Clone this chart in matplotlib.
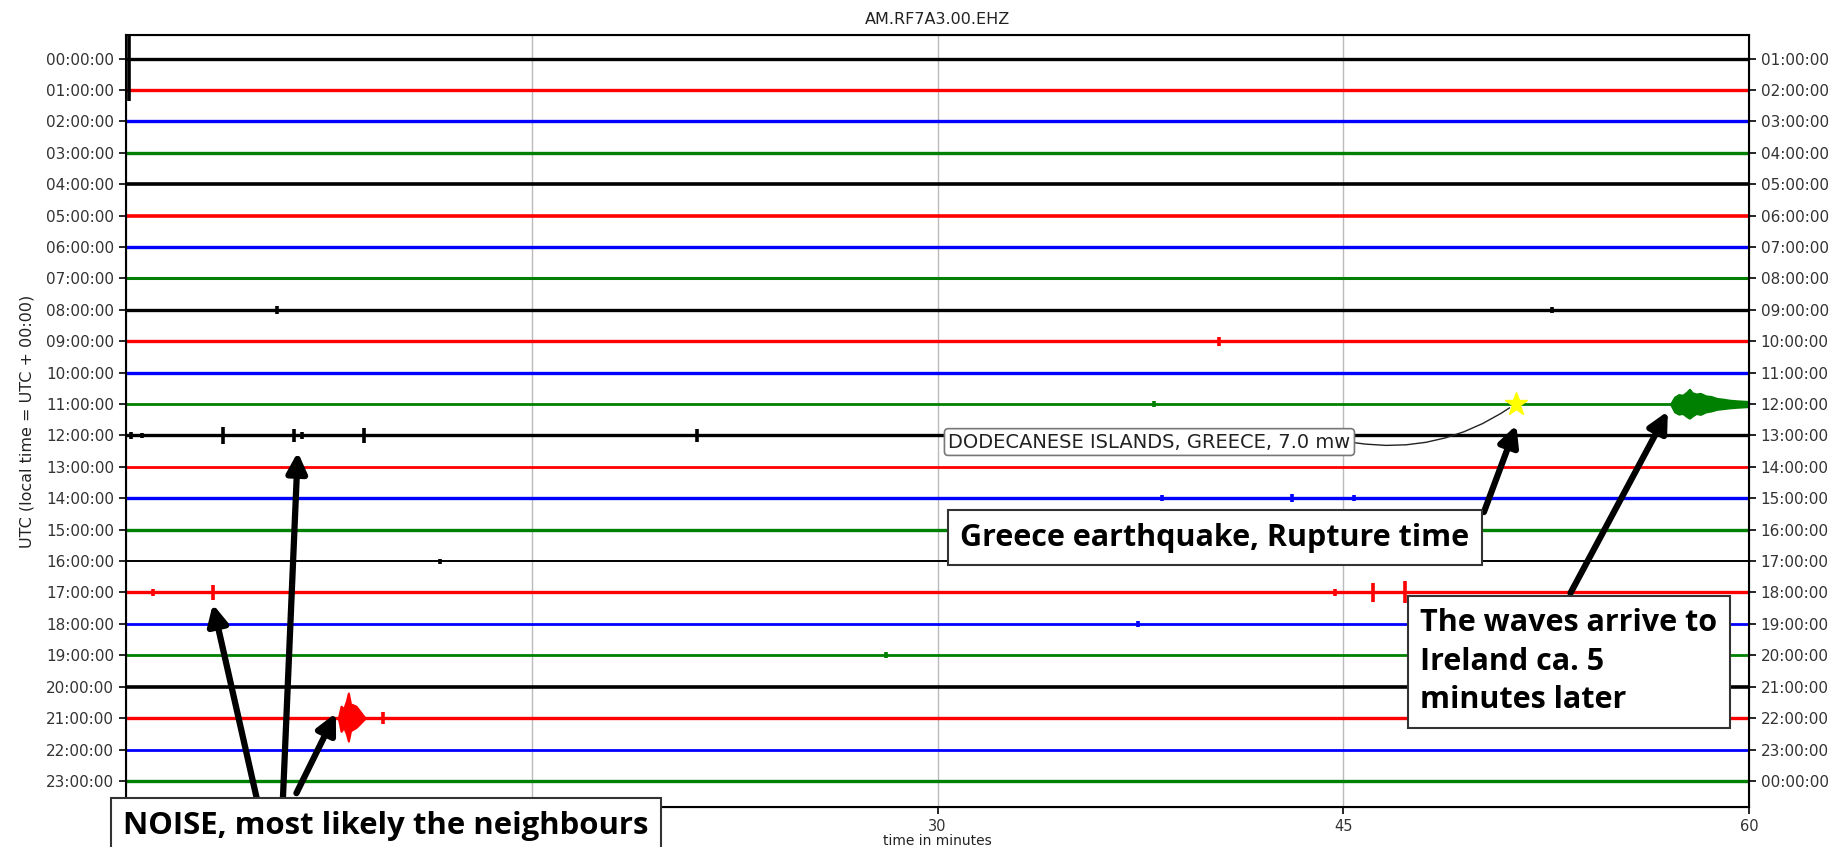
"""Day plot of station AM.RF7A3.00.EHZ with the Dodecanese (Greece) M7.0 event."""
import numpy as np
import matplotlib
matplotlib.use("Agg")
import matplotlib.pyplot as plt

# ---- data ------------------------------------------------------------------
hours = list(range(24))                      # one trace per hour, row index
left_labels = [f"{h:02d}:00:00" for h in hours]
right_labels = [f"{(h + 1) % 24:02d}:00:00" for h in hours]
x_ticks = [0, 15, 30, 45, 60]
x_labels = ["", "", "30", "45", "60"]        # 0 and 15 sit under the NOISE box

# isolated spikes / blips: row, minute, half-amplitude up, down (in rows)
spike_row = [0, 8, 8, 9, 11, 12, 12, 12, 12, 12, 12, 12, 14, 14, 14, 16,
             17, 17, 17, 17, 17, 18, 19, 21]
spike_min = [0.1, 5.6, 52.7, 40.4, 38.0, 0.2, 0.6, 3.6, 6.2, 6.5, 8.8, 21.1,
             38.3, 43.1, 45.4, 11.6, 1.0, 3.2, 44.7, 46.1, 47.3, 37.4, 28.1,
             9.5]
spike_up = [0.78, 0.12, 0.10, 0.15, 0.10, 0.10, 0.08, 0.28, 0.22, 0.12,
            0.25, 0.20, 0.10, 0.12, 0.10, 0.08, 0.12, 0.25, 0.10, 0.30, 0.35,
            0.10, 0.10, 0.20]
spike_dn = [1.35, 0.12, 0.10, 0.15, 0.10, 0.10, 0.08, 0.28, 0.22, 0.12,
            0.25, 0.20, 0.10, 0.12, 0.10, 0.08, 0.12, 0.25, 0.10, 0.30, 0.35,
            0.10, 0.10, 0.20]

# earthquake arrival on the 11:00 trace (envelope)
quake_min = [57.1, 57.25, 57.4, 57.55, 57.7, 57.8, 57.9, 58.05, 58.2, 58.4,
             58.6, 58.8, 59.0, 59.3, 59.6, 60.0]
quake_up = [0.0, 0.22, 0.30, 0.28, 0.38, 0.47, 0.36, 0.32, 0.34, 0.26,
            0.24, 0.18, 0.16, 0.12, 0.10, 0.08]
quake_dn = [0.0, 0.25, 0.32, 0.30, 0.40, 0.45, 0.38, 0.30, 0.33, 0.25,
            0.22, 0.17, 0.15, 0.12, 0.10, 0.08]

# local noise burst on the 21:00 trace (envelope)
burst_min = [7.85, 7.95, 8.05, 8.15, 8.22, 8.3, 8.4, 8.5, 8.62, 8.75, 8.85]
burst_up = [0.0, 0.38, 0.30, 0.55, 0.80, 0.45, 0.42, 0.38, 0.25, 0.10, 0.0]
burst_dn = [0.0, 0.42, 0.30, 0.50, 0.73, 0.40, 0.35, 0.30, 0.20, 0.08, 0.0]

# event marker
event_min, event_row = 51.4, 11
event_label = "DODECANESE ISLANDS, GREECE, 7.0 mw"

# ---- styles ----------------------------------------------------------------
CYCLE = ["black", "red", "blue", "green"]
trace_lw = [2.4, 2.4, 2.4, 2.4, 2.6, 2.6, 2.4, 2.2, 2.4, 2.4, 2.4, 2.0,
            2.4, 2.0, 2.4, 2.4, 1.4, 2.4, 2.0, 2.0, 2.6, 2.4, 2.0, 2.4]
BOLD = dict(family=["Open Sans", "DejaVu Sans"], fontweight="bold",
            color="black")
BOX = dict(boxstyle="square,pad=0.4", fc="white", ec="#333333", lw=1.5)


def arrow(ax, tail, tip):
    ax.annotate("", xy=tip, xytext=tail, annotation_clip=False, zorder=8,
                arrowprops=dict(arrowstyle="-|>", color="black", lw=4.5,
                                mutation_scale=30, shrinkA=0, shrinkB=0))


fig = plt.figure(figsize=(18.35, 8.47), dpi=100)
ax = fig.add_axes([126 / 1835, 1 - 807 / 847, (1749 - 126) / 1835,
                   (807 - 35) / 847])

for h in hours:
    ax.hlines(h, 0, 60, color=CYCLE[h % 4], lw=trace_lw[h], zorder=2)

for r, m, u, d in zip(spike_row, spike_min, spike_up, spike_dn):
    ax.vlines(m, r - u, r + d, color=CYCLE[r % 4], lw=2.6, zorder=2)

qr = 11
ax.fill_between(quake_min, [qr - v for v in quake_up],
                [qr + v for v in quake_dn], color=CYCLE[qr % 4], lw=1.5,
                zorder=2)
br = 21
ax.fill_between(burst_min, [br - v for v in burst_up],
                [br + v for v in burst_dn], color=CYCLE[br % 4], lw=1.5,
                zorder=2)

ax.set_xlim(0, 60)
ax.set_ylim(23.83, -0.75)
ax.set_xticks(x_ticks)
ax.set_xticklabels(x_labels, fontsize=10.5, color="#333333")
ax.set_yticks(hours)
ax.set_yticklabels(left_labels, fontsize=11, color="#333333")
ax.tick_params(axis="both", length=5, width=1.2)
for s in ax.spines.values():
    s.set_linewidth(1.5)
for g in x_ticks[1:-1]:
    ax.axvline(g, color="#bbbbbb", lw=1, zorder=1)

ax2 = ax.twinx()
ax2.set_ylim(ax.get_ylim())
ax2.set_yticks(hours)
ax2.set_yticklabels(right_labels, fontsize=11, color="#333333")
ax2.tick_params(axis="y", length=5, width=1.2)
ax2.set_zorder(ax.get_zorder() + 1)
ax2.patch.set_visible(False)

ax.set_title("AM.RF7A3.00.EHZ", fontsize=11.5, pad=8, color="#222222")
ax.set_xlabel("time in minutes", fontsize=10, labelpad=0, color="#222222")
ax.set_ylabel("UTC (local time = UTC + 00:00)", fontsize=11.5, labelpad=8,
              color="#222222")

# event star + label
ax2.plot(event_min, event_row, marker="*", ms=17, color="yellow", zorder=9)
ax2.annotate(event_label, xy=(event_min - 0.25, event_row + 0.12),
             xytext=(30.4, 12.21), ha="left", va="center", fontsize=14,
             color="#222222", zorder=9,
             bbox=dict(boxstyle="round,pad=0.2", fc="white", ec="#777777",
                       lw=1.2),
             arrowprops=dict(arrowstyle="-", color="#222222", lw=1,
                             relpos=(1.0, 0.5),
                             connectionstyle="arc3,rad=0.2", shrinkA=0,
                             shrinkB=0))

# hand-drawn annotations
ax2.text(30.85, 15.25, "Greece earthquake, Rupture time", ha="left",
         va="center", fontsize=22, bbox=BOX, zorder=10, **BOLD)
ax2.text(47.85, 19.2, "The waves arrive to\nIreland ca. 5\nminutes later",
         ha="left", va="center", fontsize=22, linespacing=1.38, bbox=BOX,
         zorder=10, **BOLD)
ax2.text(-0.1, 24.42, "NOISE, most likely the neighbours", ha="left",
         va="center", fontsize=22.4, bbox=BOX, zorder=10, clip_on=False,
         **BOLD)

arrow(ax2, (50.2, 14.44), (51.4, 11.67))
arrow(ax2, (53.4, 17.02), (57.0, 11.23))
arrow(ax2, (4.84, 23.58), (3.21, 17.37))
arrow(ax2, (5.8, 23.58), (6.35, 12.53))
arrow(ax2, (6.3, 23.39), (7.76, 20.84))

fig.savefig("out.png", dpi=100)
